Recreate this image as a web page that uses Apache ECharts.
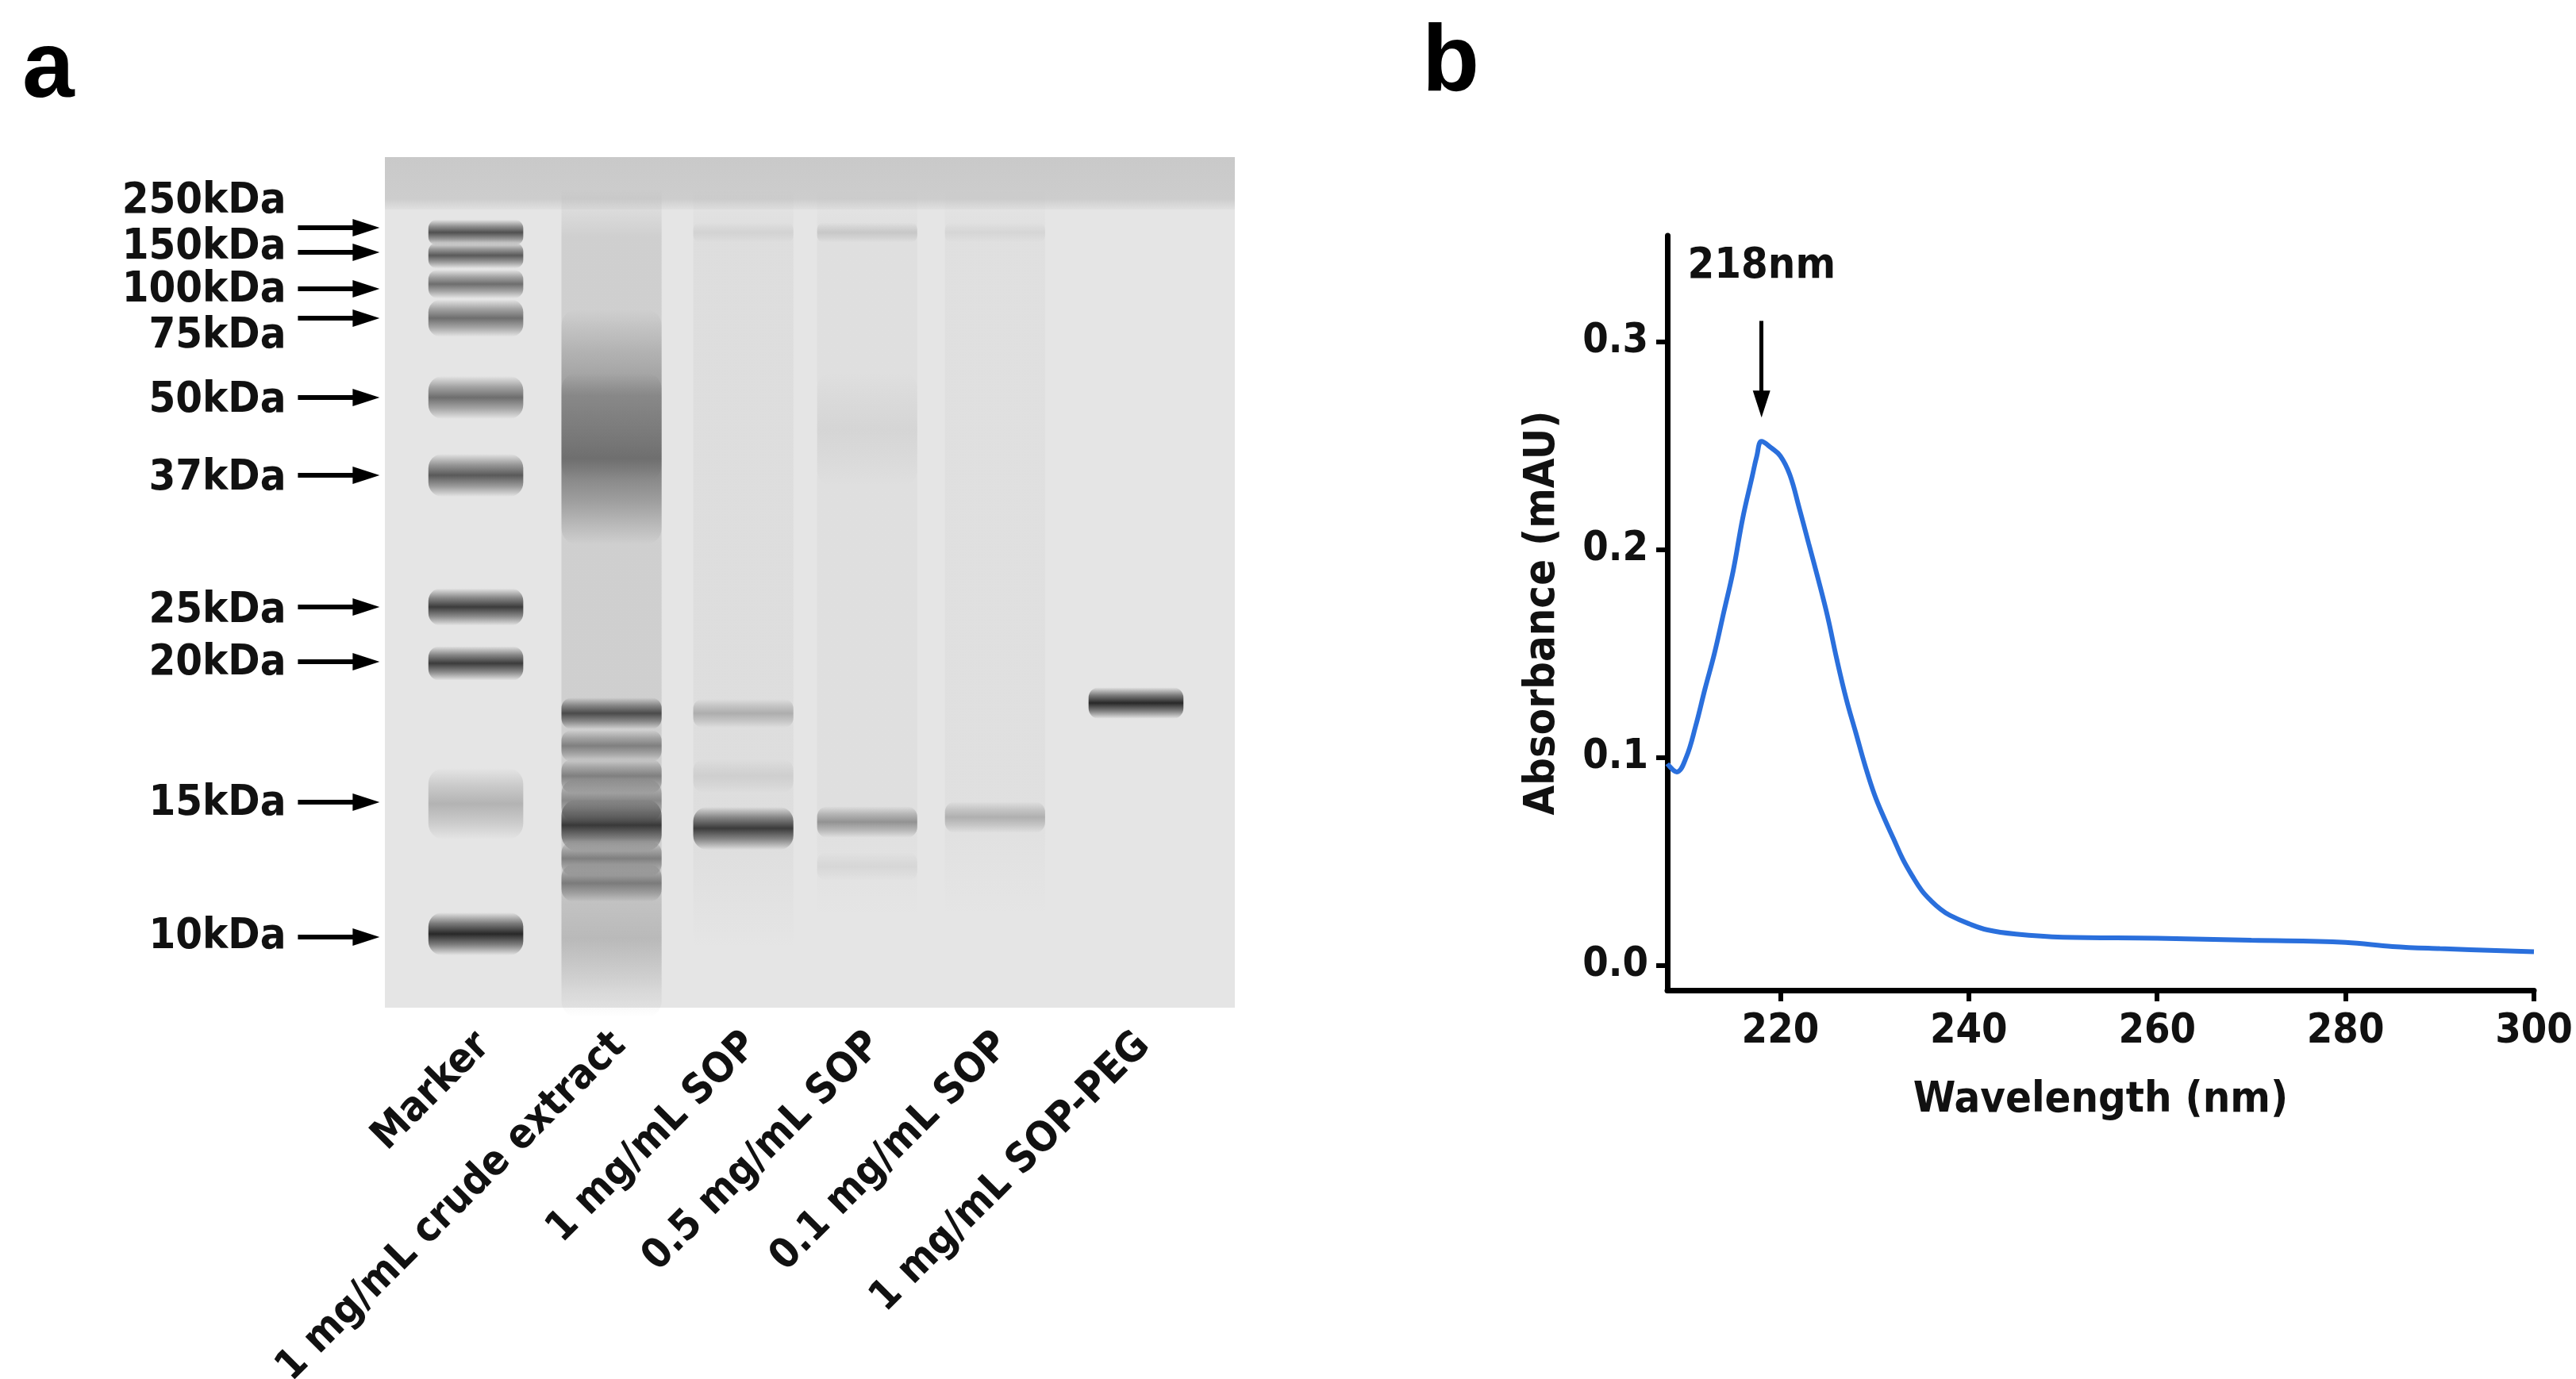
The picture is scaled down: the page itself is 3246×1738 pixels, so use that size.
<!DOCTYPE html>
<html><head><meta charset="utf-8">
<script src="https://cdn.jsdelivr.net/npm/echarts@6/dist/echarts.min.js"></script>
<style>html,body{margin:0;padding:0;background:#fff}#c{width:3246px;height:1738px}</style>
</head><body><div id="c"></div>
<script>
// ---------- Panel a data (gel) ----------
const laneNames = ['Marker','1 mg/mL crude extract','1 mg/mL SOP','0.5 mg/mL SOP','0.1 mg/mL SOP','1 mg/mL SOP-PEG'];
const laneX = [0, 1.03, 2.03, 2.97, 3.94, 5.01];
const markerLabels = ['250kDa','150kDa','100kDa','75kDa','50kDa','37kDa','25kDa','20kDa','15kDa','10kDa'];
const markerArrowY = [89,120,166,203,303,401,567,636,813,983];
const markerLabelY = [56,114,168,226,307,405,572,638,815,983];
// bands: [lane, y, intensity, thickness]
const bandsMarker = [[0,95,0.75,18],[0,124,0.7,18],[0,160,0.6,20],[0,203,0.6,26],[0,303,0.6,30],[0,401,0.7,30],[0,567,0.85,26],[0,638,0.85,24],[0,815,0.25,50],[0,979,0.95,30]];
const bandsCrude = [[1,300,0.3,120],[1,380,0.5,120],[1,701,0.75,22],[1,742,0.45,22],[1,780,0.45,24],[1,811,0.4,30],[1,842,0.85,36],[1,884,0.45,24],[1,915,0.45,26],[1,985,0.18,110]];
const bandsSop1 = [[2,95,0.06,14],[2,701,0.25,20],[2,780,0.08,24],[2,846,0.85,30]];
const bandsSop05 = [[3,95,0.12,14],[3,343,0.05,80],[3,838,0.4,22],[3,894,0.06,20]];
const bandsSop01 = [[4,95,0.05,14],[4,832,0.25,22]];
const bandsPeg = [[5,688,0.95,22]];
// lane smears: [lane, yStart, yEnd, intensity]
const smears = [[1,40,1050,0.13],[2,40,1000,0.045],[3,40,960,0.035],[4,40,960,0.03]];

// ---------- Panel b data (spectrum) ----------
const wavelength = [208,209,210,211,212,213,214,215,216,217,217.5,218,219,220,221,222,223,224,225,226,227,228,229,230,231,232,233,234,235,236,237,238,240,242,245,250,260,270,280,285,290,300];
const absorbance = [0.097,0.093,0.1,0.115,0.133,0.15,0.17,0.19,0.215,0.235,0.245,0.252,0.249,0.245,0.236,0.22,0.203,0.186,0.168,0.147,0.128,0.112,0.096,0.082,0.071,0.061,0.051,0.043,0.036,0.031,0.027,0.024,0.02,0.017,0.015,0.0135,0.013,0.012,0.011,0.009,0.008,0.0065];
const xTicks = [220,240,260,280,300];
const yTicks = [0,0.1,0.2,0.3];

const FN = '"DejaVu Sans Condensed","Liberation Sans Narrow","Liberation Sans",Arial';
const chart = echarts.init(document.getElementById('c'));
const allBands = [].concat(bandsMarker,bandsCrude,bandsSop1,bandsSop05,bandsSop01,bandsPeg);

function bandRender(params, api){
  const lane = api.value(0), y = api.value(1), a = api.value(2), th = api.value(3);
  const hw = lane===5 ? 0.36 : (lane===0 ? 0.36 : 0.38);
  const xc = laneX[lane];
  const p0 = api.coord([xc-hw, y]), p1 = api.coord([xc+hw, y]);
  const h = th*1.8;
  const c = 'rgba(30,30,30,';
  return {type:'rect', shape:{x:p0[0], y:p0[1]-h/2, width:p1[0]-p0[0], height:h, r:Math.min(h/3,20)},
    style:{fill:new echarts.graphic.LinearGradient(0,0,0,1,[
      {offset:0,color:c+'0)'},{offset:0.25,color:c+(a*0.55)+')'},{offset:0.5,color:c+a+')'},{offset:0.75,color:c+(a*0.55)+')'},{offset:1,color:c+'0)'}])}};
}

chart.setOption({
  animation:false,
  graphic:[
    {type:'text', left:28, top:30, style:{text:'a', font:'bold 118px "Liberation Sans",Arial', fill:'#000'}},
    {type:'text', left:1792, top:22, style:{text:'b', font:'bold 118px "Liberation Sans",Arial', fill:'#000'}}
  ],
  grid:[
    {left:485, top:198, width:1071, height:1072},
    {left:2101, top:297, width:1092, height:951}
  ],
  xAxis:[
    {gridIndex:0, type:'value', min:-0.69, max:5.76, show:false},
    {gridIndex:1, type:'value', min:208, max:300,
     axisLine:{onZero:false, lineStyle:{color:'#000', width:7}},
     axisTick:{customValues:xTicks, length:14, lineStyle:{color:'#000', width:6}},
     axisLabel:{customValues:xTicks, color:'#111', fontSize:52, fontWeight:'bold', fontFamily:FN, margin:26},
     splitLine:{show:false},
     name:'Wavelength (nm)', nameLocation:'middle', nameGap:112,
     nameTextStyle:{color:'#111', fontSize:54, fontWeight:'bold', fontFamily:FN}}
  ],
  yAxis:[
    {gridIndex:0, type:'value', min:0, max:1072, inverse:true, show:false},
    {gridIndex:1, type:'value', min:-0.012, max:0.351,
     axisLine:{show:true, onZero:false, lineStyle:{color:'#000', width:7}},
     axisTick:{show:true, customValues:yTicks, length:14, lineStyle:{color:'#000', width:6}},
     axisLabel:{customValues:yTicks, color:'#111', fontSize:52, fontWeight:'bold', fontFamily:FN, margin:24,
       formatter:v=>v.toFixed(1)},
     splitLine:{show:false},
     name:'Absorbance (mAU)', nameLocation:'middle', nameGap:130,
     nameTextStyle:{color:'#111', fontSize:54, fontWeight:'bold', fontFamily:FN}}
  ],
  series:[
    {type:'custom', xAxisIndex:0, yAxisIndex:0, silent:true, data:[[0]],
     renderItem:(p,api)=>{
       const a=api.coord([-0.69,0]), b=api.coord([5.76,1072]), s=api.coord([-0.69,66]);
       return {type:'group', children:[
         {type:'rect', shape:{x:a[0],y:a[1],width:b[0]-a[0],height:b[1]-a[1]}, style:{fill:'#e5e5e5'}},
         {type:'rect', shape:{x:a[0],y:a[1],width:b[0]-a[0],height:s[1]-a[1]},
          style:{fill:new echarts.graphic.LinearGradient(0,0,0,1,[{offset:0,color:'#c9c9c9'},{offset:0.8,color:'#cdcdcd'},{offset:1,color:'#e0e0e0'}])}}
       ]};
     }},
    {type:'custom', xAxisIndex:0, yAxisIndex:0, silent:true, data:smears,
     renderItem:(p,api)=>{
       const xc=laneX[api.value(0)], p0=api.coord([xc-0.38,api.value(1)]), p1=api.coord([xc+0.38,api.value(2)]);
       const a=api.value(3), c='rgba(60,60,60,';
       return {type:'rect', shape:{x:p0[0],y:p0[1],width:p1[0]-p0[0],height:p1[1]-p0[1]},
         style:{fill:new echarts.graphic.LinearGradient(0,0,0,1,[{offset:0,color:c+'0)'},{offset:0.06,color:c+a+')'},{offset:0.85,color:c+a+')'},{offset:1,color:c+'0)'}])}};
     }},
    {type:'custom', xAxisIndex:0, yAxisIndex:0, silent:true, data:allBands, renderItem:bandRender},
    {type:'custom', xAxisIndex:0, yAxisIndex:0, silent:true, clip:false,
     data:markerLabels.map((t,i)=>[i, markerArrowY[i], markerLabelY[i]]),
     renderItem:(p,api)=>{
       const i=api.value(0);
       const ay=api.coord([0,api.value(1)])[1], ly=api.coord([0,api.value(2)])[1];
       const tx=api.coord([-1.44,0])[0], x0=api.coord([-1.35,0])[0], x1=api.coord([-0.73,0])[0];
       return {type:'group', children:[
         {type:'text', style:{text:markerLabels[i], x:tx, y:ly, align:'right', verticalAlign:'middle', font:'bold 54px '+FN, fill:'#111'}},
         {type:'line', shape:{x1:x0,y1:ay,x2:x1-28,y2:ay}, style:{stroke:'#000', lineWidth:6}},
         {type:'polygon', shape:{points:[[x1,ay],[x1-34,ay-11],[x1-34,ay+11]]}, style:{fill:'#000'}}
       ]};
     }},
    {type:'custom', xAxisIndex:0, yAxisIndex:0, silent:true, clip:false,
     data:laneNames.map((n,i)=>[i]),
     renderItem:(p,api)=>{
       const i=api.value(0); const pt=api.coord([laneX[i]+0.06,1112]);
       return {type:'text', x:pt[0], y:pt[1], rotation:Math.PI/4,
         style:{text:laneNames[i], x:0, y:0, align:'right', verticalAlign:'middle', font:'bold 52px '+FN, fill:'#111'}};
     }},
    {type:'line', xAxisIndex:1, yAxisIndex:1, data:wavelength.map((w,i)=>[w,absorbance[i]]),
     showSymbol:false, smooth:0.4, lineStyle:{color:'#2a6fdc', width:6}, silent:true,
     markLine:{silent:true, symbol:['none','triangle'], symbolSize:[22,34],
       lineStyle:{color:'#000', width:5, type:'solid'}, label:{show:false},
       data:[[{coord:[218,0.31]},{coord:[218,0.27]}]]},
     markPoint:{silent:true, symbol:'circle', symbolSize:1, itemStyle:{color:'transparent'},
       label:{show:true, formatter:'218nm', color:'#111', fontSize:54, fontWeight:'bold', fontFamily:FN, position:'inside'},
       data:[{coord:[218,0.336]}]}}
  ]
});
</script></body></html>
